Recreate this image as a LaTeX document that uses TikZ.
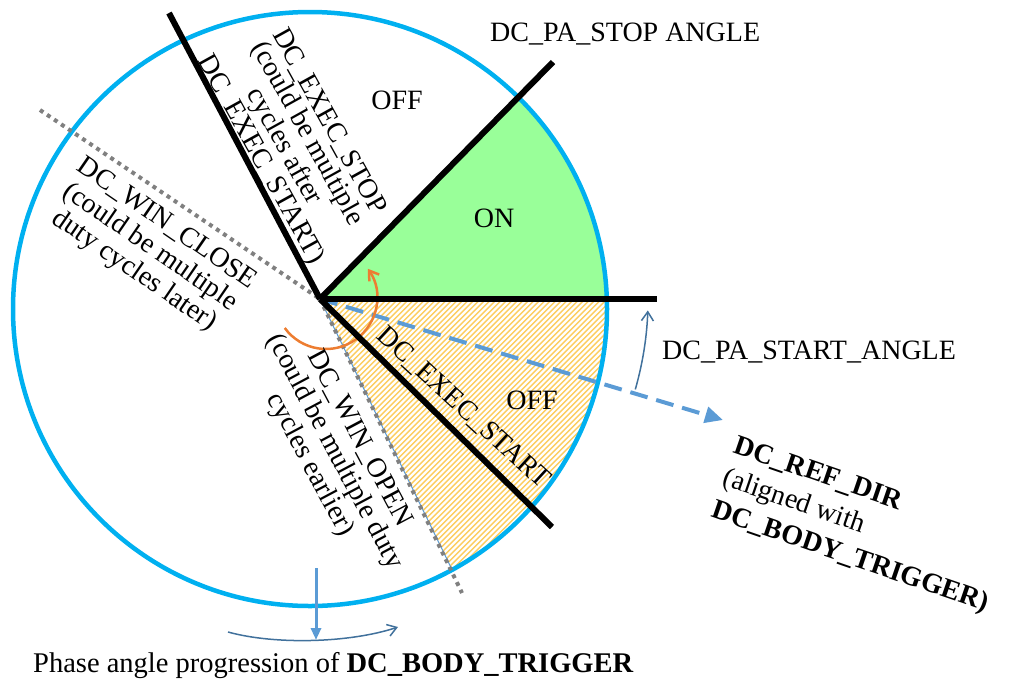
\documentclass[tikz,border=0pt]{standalone}
\usepackage{fontspec}
\setmainfont{Liberation Serif}
\usetikzlibrary{arrows.meta}
\definecolor{ringblue}{RGB}{0,176,240}
\definecolor{dashblue}{RGB}{91,155,213}
\definecolor{darkblue}{RGB}{65,113,156}
\definecolor{onGreen}{RGB}{153,255,153}
\definecolor{hatchorange}{RGB}{252,205,95}
\definecolor{arcorange}{RGB}{237,125,49}
\definecolor{dotgray}{RGB}{128,128,128}
\begin{document}
\begin{tikzpicture}[x=1pt,y=1pt,
  txt/.style={inner sep=0pt, font=\fontsize{28}{28}\selectfont},
  ring/.style={draw=ringblue, line width=4.5pt},
  bline/.style={draw=black, line width=6pt},
  dotline/.style={draw=dotgray, line width=4pt, dash pattern=on 4pt off 4.5pt},
  refline/.style={draw=dashblue, line width=4pt, dash pattern=on 18pt off 9pt, -{Triangle[length=18pt,width=16pt]}},
  thinarrow/.style={draw=darkblue, line width=1.5pt, -{Straight Barb[length=9pt,width=12pt]}},
  orarrow/.style={draw=arcorange, line width=2.5pt, -{Straight Barb[length=9pt,width=12pt]}},
  downarrow/.style={draw=dashblue, line width=3pt, -{Triangle[length=12pt,width=10pt]}},
  hatchline/.style={draw=hatchorange, line width=1.4pt},
  edgeline/.style={draw=dashblue, line width=1pt}
]
\useasboundingbox (0,0) rectangle (1012,-681);
\coordinate (c) at (310,-309);
\coordinate (hub) at (320,-299);
\coordinate (hEnd) at (657,-299);
\coordinate (stopEnd) at (553,-62);
\coordinate (xstopEnd) at (169,-13);
\coordinate (xstartEnd) at (552,-527);
\coordinate (closeEnd) at (40,-110);
\coordinate (openEnd) at (462,-593);
\coordinate (openEdge) at (452.1,-569.8);
\coordinate (refEnd) at (723,-420);
\coordinate (oc) at (326,-298);
\coordinate (vTop) at (316,-568);
\coordinate (vBot) at (316,-640);
\coordinate (bL) at (228,-632);
\coordinate (bR) at (398,-627);

% sector fills
\begin{scope}
  \clip (c) circle (297);
  \fill[onGreen] (hub) -- +(0:450) -- +(22.75:450) -- +(45.5:450) -- cycle;
  \begin{scope}
    \clip (hub) -- +(0:450) -- +(-32:450) -- +(-64:450) -- cycle;
    \foreach \a in {10,15.5,...,600} \draw[hatchline] (\a,-610) -- ++(360,360);
  \end{scope}
\end{scope}
\draw[edgeline] (hub) -- (openEdge);

% ring
\draw[ring] (c) circle (297);

% dotted window lines
\draw[dotline] (closeEnd) -- (hub);
\draw[dotline] (hub) -- (openEnd);

% reference direction
\draw[refline] (hub) -- (refEnd);

% orange progression arc
\draw[orarrow] (oc) ++(216:51) arc[start angle=216, end angle=395, radius=51];

% black boundary lines
\draw[bline] (hub) -- (hEnd);
\draw[bline] (hub) -- (stopEnd);
\draw[bline] (hub) -- (xstopEnd);
\draw[bline] (hub) -- (xstartEnd);

% start angle arc
\draw[thinarrow] (hub) ++(-16:328) arc[start angle=-16, end angle=-2, radius=328];

% bottom arrows
\draw[downarrow] (vTop) -- (vBot);
\draw[thinarrow] (bL) .. controls (275,-645) and (350,-643) .. (bR);

% labels
\node[txt] (offTop) at (397,-100) {OFF};
\node[txt] (on) at (494,-218) {ON};
\node[txt] (offBot) at (532,-400) {OFF};
\node[txt, anchor=base west] (paStop) at (490,-41) {DC\_PA\_STOP ANGLE};
\node[txt, anchor=base west] (paStart) at (662,-359) {DC\_PA\_START\_ANGLE};
\node[txt, rotate=-61, align=center, font=\fontsize{28}{24.5}\selectfont] (execStop) at (294,-141)
  {DC\_EXEC\_STOP\\(could be multiple\\cycles after\\DC\_EXEC\_START)};
\node[txt, rotate=-34.5, align=center, font=\fontsize{28}{28.5}\selectfont] (winClose) at (150,-248)
  {DC\_WIN\_CLOSE\\(could be multiple\\duty cycles later)};
\node[txt, rotate=-62, align=center, font=\fontsize{28}{28}\selectfont] (winOpen) at (334,-452)
  {DC\_WIN\_OPEN\\(could be multiple duty\\cycles earlier)};
\node[txt, rotate=-42.5] (execStart) at (463,-408) {DC\_EXEC\_START};
\node[txt, rotate=-19, align=left, font=\fontsize{28}{34}\selectfont] (refDir) at (861,-526)
  {\textbf{DC\_REF\_DIR}\\(aligned with\\\textbf{DC\_BODY\_TRIGGER)}};
\node[txt, anchor=base west, font=\fontsize{28.5}{28.5}\selectfont] (phase) at (33,-672) {Phase angle progression of \textbf{DC\_BODY\_TRIGGER}};
\end{tikzpicture}
\end{document}
